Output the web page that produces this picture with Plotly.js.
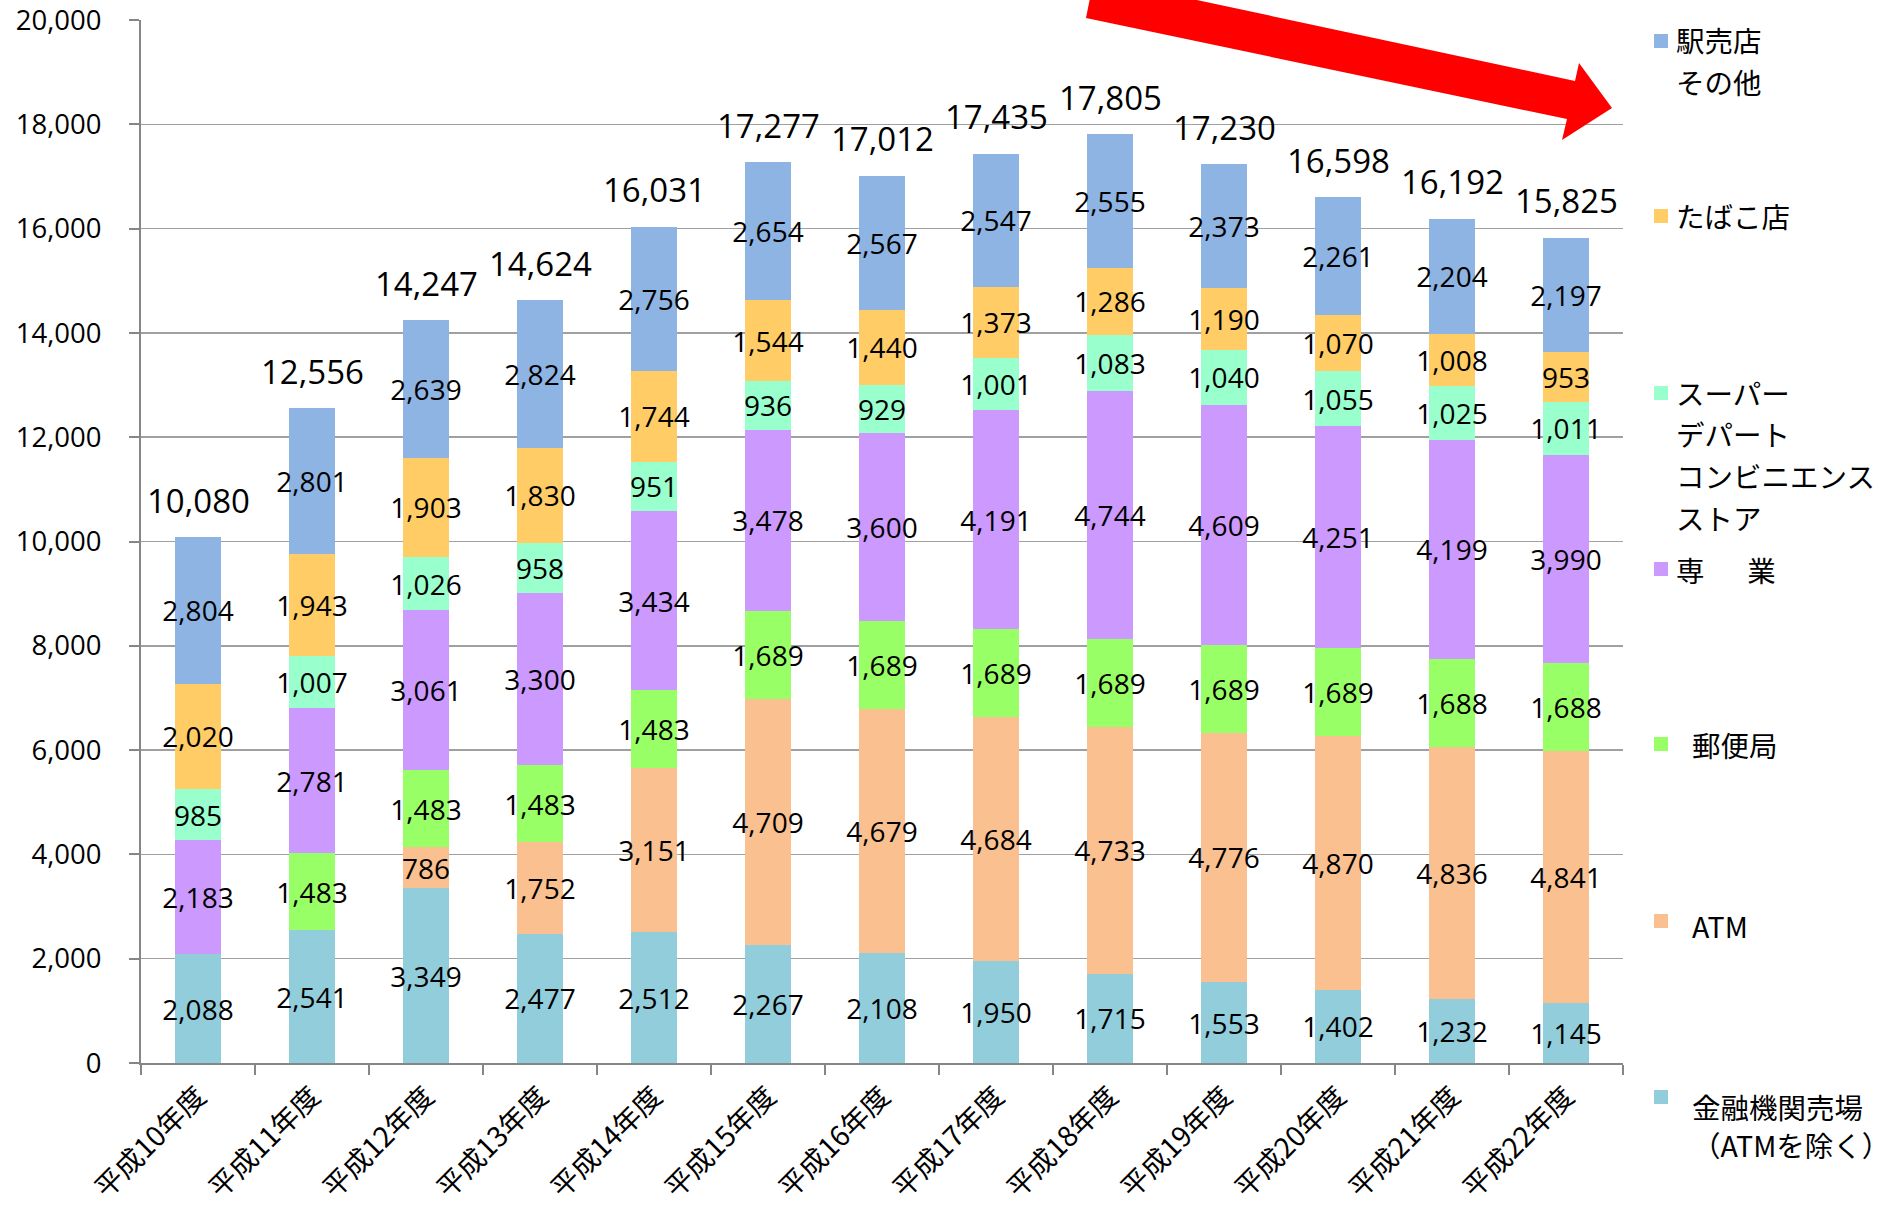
<!DOCTYPE html>
<html>
<head>
<meta charset="utf-8">
<script src="https://cdn.plot.ly/plotly-3.0.1.min.js"></script>
<style>html,body{margin:0;padding:0;background:#fff;}</style>
</head>
<body>
<div id="chart" style="width:1899px;height:1213px;"></div>
<script>
// ---- data ----
const years = ['平成10年度','平成11年度','平成12年度','平成13年度','平成14年度','平成15年度','平成16年度','平成17年度','平成18年度','平成19年度','平成20年度','平成21年度','平成22年度'];
const kinyu  = [2088, 2541, 3349, 2477, 2512, 2267, 2108, 1950, 1715, 1553, 1402, 1232, 1145];
const atm    = [null, null,  786, 1752, 3151, 4709, 4679, 4684, 4733, 4776, 4870, 4836, 4841];
const yubin  = [null, 1483, 1483, 1483, 1483, 1689, 1689, 1689, 1689, 1689, 1689, 1688, 1688];
const sengyo = [2183, 2781, 3061, 3300, 3434, 3478, 3600, 4191, 4744, 4609, 4251, 4199, 3990];
const superS = [ 985, 1007, 1026,  958,  951,  936,  929, 1001, 1083, 1040, 1055, 1025, 1011];
const tabako = [2020, 1943, 1903, 1830, 1744, 1544, 1440, 1373, 1286, 1190, 1070, 1008,  953];
const ekibai = [2804, 2801, 2639, 2824, 2756, 2654, 2567, 2547, 2555, 2373, 2261, 2204, 2197];
const totals = [10080, 12556, 14247, 14624, 16031, 17277, 17012, 17435, 17805, 17230, 16598, 16192, 15825];

const seriesNames = ['金融機関売場（ATMを除く）','ATM','郵便局','専業','スーパー・デパート・コンビニエンスストア','たばこ店','駅売店その他'];
const seriesValues = [kinyu, atm, yubin, sengyo, superS, tabako, ekibai];
const seriesColors = ['#92CDDC','#FAC090','#99FF66','#CC99FF','#99FFCC','#FFCC66','#8EB4E3'];

// legend text lines (as displayed), per series
const legendLines = [
  ['金融機関売場','（ATMを除く）'],
  ['ATM'],
  ['郵便局'],
  ['専\u3000\u2002業'],
  ['スーパー','デパート','コンビニエンス','ストア'],
  ['たばこ店'],
  ['駅売店','その他']
];

// ---- layout helpers (pixel -> paper) ----
const PL = 141, PR = 1623, PT = 20, PB = 1063;
const X = px => (px - PL) / (PR - PL);
const Y = py => (PB - py) / (PB - PT);

const numFont = 'Open Sans, Noto Sans CJK JP, sans-serif';
const cjkFont = 'Noto Sans CJK JP, Noto Sans, sans-serif';

const traces = seriesValues.map((vals, i) => ({
  type: 'bar',
  name: seriesNames[i],
  x: years,
  y: vals,
  marker: {color: seriesColors[i], line: {width: 0}},
  texttemplate: '%{y:,}',
  textposition: 'inside',
  insidetextanchor: 'middle',
  textangle: 0,
  constraintext: 'none',
  textfont: {family: numFont, size: 28, color: '#000'},
  hoverinfo: 'skip'
}));

const annotations = totals.map((t, i) => ({
  x: years[i], y: t, xref: 'x', yref: 'y',
  text: t.toLocaleString('en-US'),
  showarrow: false, yanchor: 'middle', yshift: 37,
  font: {family: numFont, size: 33, color: '#000'}
}));

// legend (Excel-style, spread vertically)
const legendMarkerY = [1097, 921, 744, 569, 393, 216, 41];
const legendLineY = [[1106, 1144], [925], [744], [569], [393, 433, 475, 517], [216], [40, 81]];
const legendTextX = [1690, 1690, 1690, 1674, 1674, 1674, 1674];
const shapes = [];
legendLines.forEach((lines, i) => {
  lines.forEach((ln, j) => {
    annotations.push({
      xref: 'paper', yref: 'paper', x: X(legendTextX[i]), y: Y(legendLineY[i][j]),
      xanchor: 'left', yanchor: 'middle', showarrow: false, text: ln,
      font: {family: cjkFont, size: 28.5, color: '#000'}
    });
  });
  shapes.push({
    type: 'rect', xref: 'paper', yref: 'paper', layer: 'above',
    x0: X(1654), x1: X(1668), y0: Y(legendMarkerY[i] + 7), y1: Y(legendMarkerY[i] - 7),
    fillcolor: seriesColors[i], line: {width: 0}
  });
});

// red trend arrow (decoration)
const arrowPts = [[1086,18],[1567,119],[1562,140],[1612,108],[1579,63],[1575,81],[1094,-22]];
shapes.push({
  type: 'path', xref: 'paper', yref: 'paper', layer: 'above',
  path: 'M ' + arrowPts.map(p => X(p[0]) + ',' + Y(p[1])).join(' L ') + ' Z',
  fillcolor: '#FF0000', line: {width: 0}
});

const layout = {
  width: 1899, height: 1213,
  paper_bgcolor: '#fff', plot_bgcolor: '#fff',
  margin: {l: PL, r: 1899 - PR, t: PT, b: 1213 - PB, pad: 0},
  barmode: 'stack', bargap: 0.605,
  showlegend: false,
  font: {family: numFont, color: '#000'},
  xaxis: {
    type: 'category', tickangle: -45, ticks: 'outside', tickson: 'boundaries',
    ticklen: 10, tickwidth: 2, tickcolor: '#868686',
    showline: true, linecolor: '#868686', linewidth: 2, showgrid: false,
    tickfont: {family: cjkFont, size: 28, color: '#000'},
    ticklabelstandoff: 4
  },
  yaxis: {
    range: [0, 20000], dtick: 2000, tick0: 0, tickformat: ',d',
    ticks: 'outside', ticklen: 10, tickwidth: 2, tickcolor: '#868686',
    showline: true, linecolor: '#868686', linewidth: 2,
    gridcolor: '#a0a0a0', gridwidth: 1.5, zeroline: false,
    tickfont: {family: numFont, size: 27.5, color: '#000'},
    ticklabelstandoff: 22
  },
  annotations: annotations,
  shapes: shapes
};

Plotly.newPlot('chart', traces, layout, {displayModeBar: false, staticPlot: true});
</script>
</body>
</html>
